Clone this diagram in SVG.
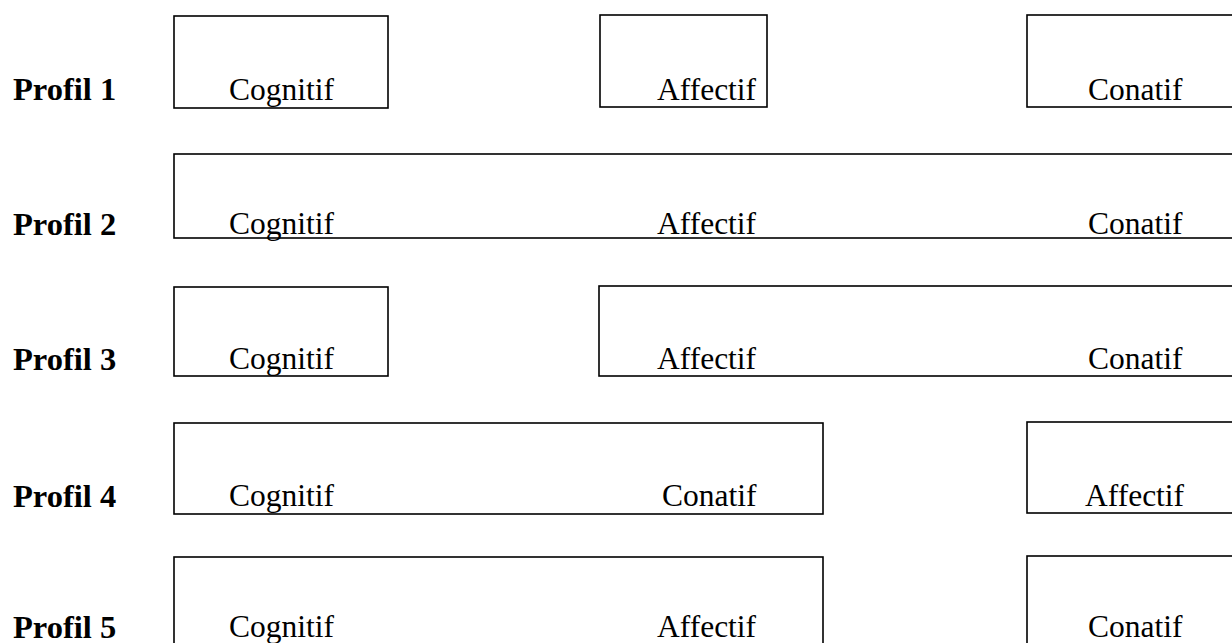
<svg xmlns="http://www.w3.org/2000/svg" width="1232" height="643" viewBox="0 0 1232 643">
<style>
.box{fill:#fff;stroke:#000;stroke-width:1.6}
.t{font-family:"Liberation Serif","Times New Roman",serif;font-size:31.5px;fill:#000}
.p{font-family:"Liberation Serif","Times New Roman",serif;font-size:32.5px;font-weight:bold;fill:#000}
</style>
<rect width="1232" height="643" fill="#fff"/>
<g id="row1">
<text class="p" x="13" y="100">Profil 1</text>
<g id="r1-cognitif"><rect class="box" x="174" y="16" width="214" height="92"/><text class="t" x="229" y="100">Cognitif</text></g>
<g id="r1-affectif"><rect class="box" x="600" y="15" width="167" height="92"/><text class="t" x="657" y="100">Affectif</text></g>
<g id="r1-conatif"><rect class="box" x="1027" y="15" width="220" height="92"/><text class="t" x="1088" y="100">Conatif</text></g>
</g>
<g id="row2">
<text class="p" x="13" y="235">Profil 2</text>
<g id="r2-all"><rect class="box" x="174" y="154" width="1070" height="84"/>
<text class="t" x="229" y="234">Cognitif</text><text class="t" x="657" y="234">Affectif</text><text class="t" x="1088" y="234">Conatif</text></g>
</g>
<g id="row3">
<text class="p" x="13" y="370">Profil 3</text>
<g id="r3-cognitif"><rect class="box" x="174" y="287" width="214" height="89"/><text class="t" x="229" y="369">Cognitif</text></g>
<g id="r3-affconat"><rect class="box" x="599" y="286" width="645" height="90"/><text class="t" x="657" y="369">Affectif</text><text class="t" x="1088" y="369">Conatif</text></g>
</g>
<g id="row4">
<text class="p" x="13" y="507">Profil 4</text>
<g id="r4-cogconat"><rect class="box" x="174" y="423" width="649" height="91"/><text class="t" x="229" y="506">Cognitif</text><text class="t" x="662" y="506">Conatif</text></g>
<g id="r4-affectif"><rect class="box" x="1027" y="422" width="220" height="91"/><text class="t" x="1085" y="506">Affectif</text></g>
</g>
<g id="row5">
<text class="p" x="13" y="638">Profil 5</text>
<g id="r5-cogaff"><rect class="box" x="174" y="557" width="649" height="100"/><text class="t" x="229" y="637">Cognitif</text><text class="t" x="657" y="637">Affectif</text></g>
<g id="r5-conatif"><rect class="box" x="1027" y="556" width="220" height="100"/><text class="t" x="1088" y="637">Conatif</text></g>
</g>
</svg>
